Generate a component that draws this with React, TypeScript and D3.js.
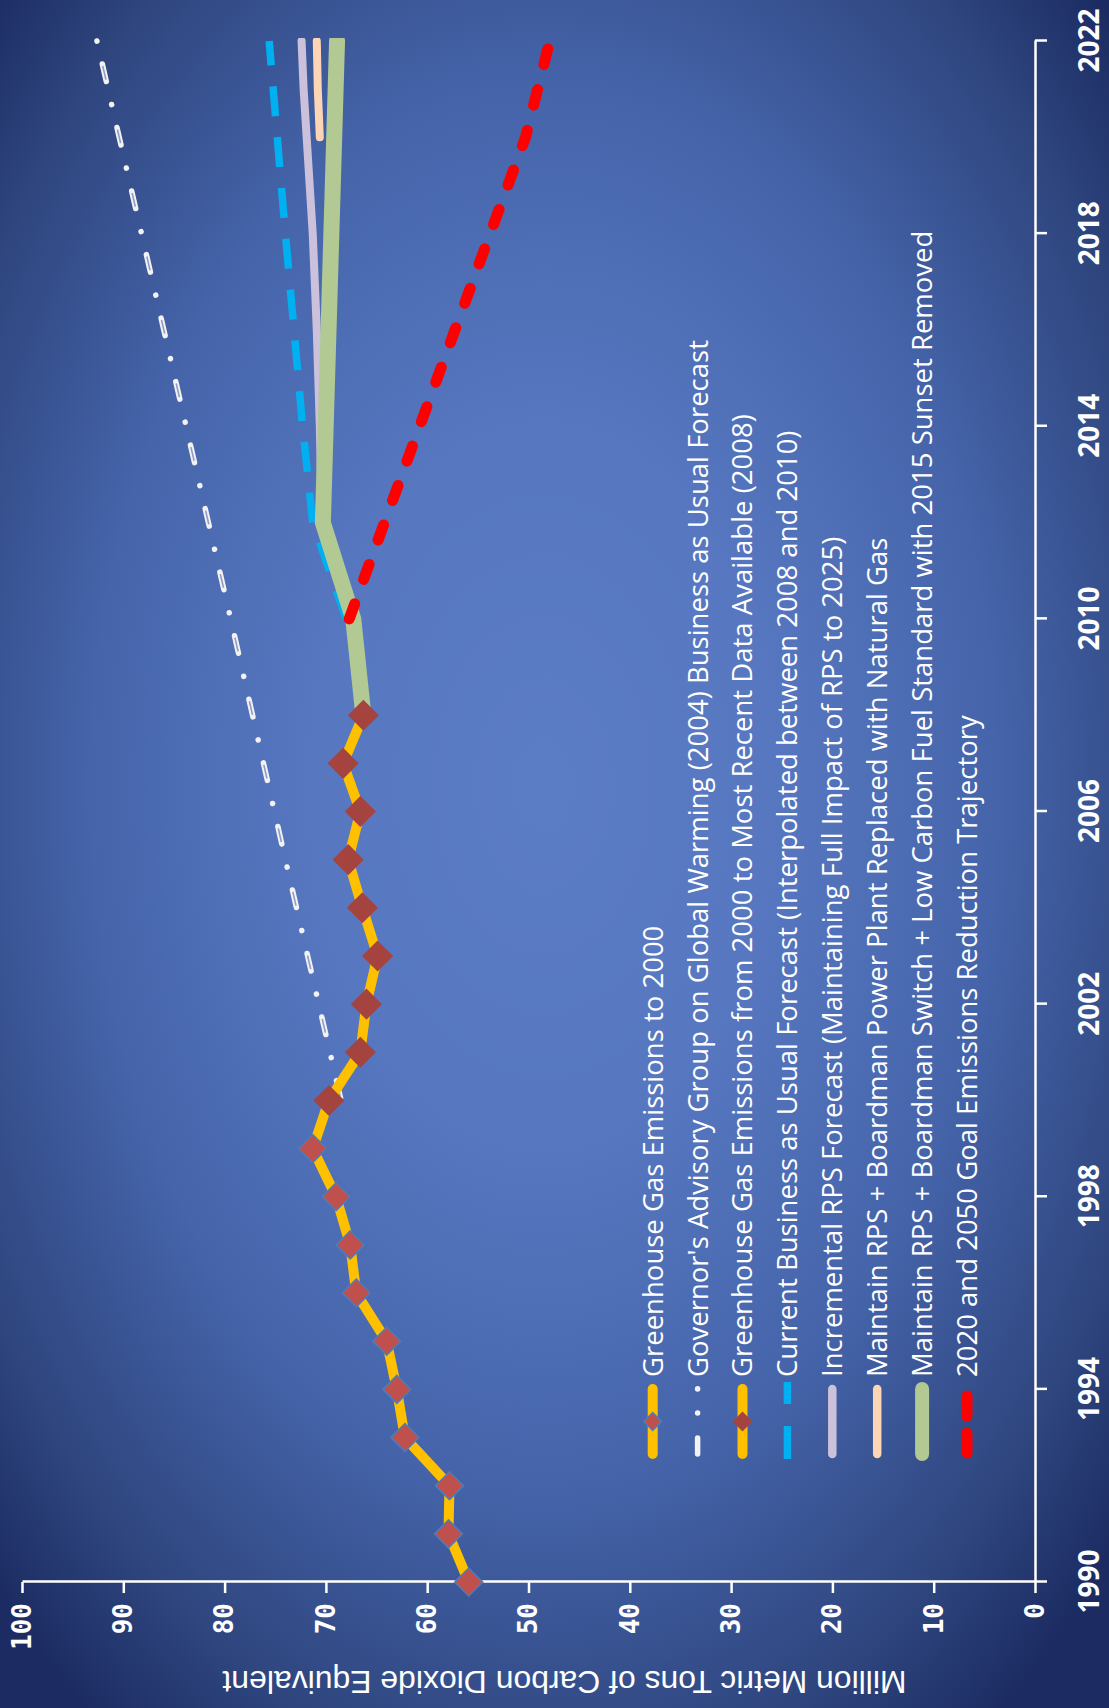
import React, { useEffect, useRef } from 'react'
import * as d3 from 'd3'

const W = 1109
const H = 1708

// chart is drawn landscape and turned a quarter turn counter-clockwise
const historyYears = [1990, 1991, 1992, 1993, 1994, 1995, 1996, 1997, 1998, 1999, 2000]
const historyValues = [55.9, 57.9, 57.8, 62.2, 63.0, 64.0, 67.0, 67.6, 69.0, 71.3, 69.7]

const governorYears = [2000, 2005, 2010, 2015, 2020, 2022]
const governorValues = [68.5, 74.0, 79.4, 84.9, 90.4, 92.6]

const recentYears = [2000, 2001, 2002, 2003, 2004, 2005, 2006, 2007, 2008]
const recentValues = [69.7, 66.6, 66.0, 64.9, 66.4, 67.8, 66.6, 68.3, 66.3]

const bauYears = [2010, 2012, 2014, 2018, 2022]
const bauValues = [68.0, 71.3, 72.3, 74.0, 75.6]

const rpsYears = [2012, 2013, 2014, 2015, 2016, 2017, 2018, 2019, 2020, 2021, 2022]
const rpsValues = [70.3, 70.5, 70.6, 70.75, 70.9, 71.1, 71.3, 71.6, 71.9, 72.2, 72.4]

const gasYears = [2020, 2021, 2022]
const gasValues = [70.6, 70.8, 70.9]

const lcfsYears = [2008, 2009, 2010, 2012, 2022]
const lcfsValues = [66.3, 66.8, 67.3, 70.3, 68.9]

const goalYears = [2010, 2020, 2022]
const goalValues = [67.7, 50.3, 47.9]

const yearTicks = [1990, 1994, 1998, 2002, 2006, 2010, 2014, 2018, 2022]
const valueTicks = [0, 10, 20, 30, 40, 50, 60, 70, 80, 90, 100]

const legendLabels = [
  'Greenhouse Gas Emissions to 2000',
  "Governor's Advisory Group on Global Warming (2004) Business as Usual Forecast",
  'Greenhouse Gas Emissions from 2000 to Most Recent Data Available (2008)',
  'Current Business as Usual Forecast (Interpolated between 2008 and 2010)',
  'Incremental RPS Forecast (Maintaining Full Impact of RPS to 2025)',
  'Maintain RPS + Boardman Power Plant Replaced with Natural Gas',
  'Maintain RPS + Boardman Switch + Low Carbon Fuel Standard with 2015 Sunset Removed',
  '2020 and 2050 Goal Emissions Reduction Trajectory'
]

const yTitle = 'Million Metric Tons of Carbon Dioxide Equivalent'

export default function App () {
  const ref = useRef<SVGSVGElement>(null)

  useEffect(() => {
    const svg = d3.select(ref.current)
    svg.selectAll('*').remove()

    const x = d3.scaleLinear().domain([1990, 2022]).range([126, 1667])
    const y = d3.scaleLinear().domain([0, 100]).range([1035, 22])

    const defs = svg.append('defs')
    const grad = defs.append('radialGradient')
      .attr('id', 'bg')
      .attr('cx', '49%')
      .attr('cy', '46%')
      .attr('r', '68%')
    const stops: [number, string][] = [
      [0, '#5b7dc6'], [0.3, '#5778c1'], [0.6, '#4564aa'], [0.85, '#2f467f'], [1, '#1c2c63']
    ]
    stops.forEach(s => grad.append('stop').attr('offset', s[0]).attr('stop-color', s[1]))

    // plot area clip (landscape coords)
    defs.append('clipPath').attr('id', 'plot')
      .append('rect')
      .attr('x', 0).attr('y', 0)
      .attr('width', x(2022) + 3).attr('height', y(0))

    svg.append('rect').attr('width', W).attr('height', H).attr('fill', 'url(#bg)')

    const g = svg.append('g').attr('transform', `translate(0,${H}) rotate(-90)`)

    // value axis
    const yAxis = g.append('g')
      .attr('transform', `translate(${x(1990)},0)`)
      .call(d3.axisLeft(y).tickValues(valueTicks).tickSize(11).tickSizeOuter(0).tickPadding(10))
    yAxis.attr('font-family', "'DejaVu Sans Mono', monospace").attr('font-size', 26).attr('font-weight', 'bold')
    yAxis.select('.domain').attr('stroke', '#fff').attr('stroke-width', 2.5)
    yAxis.selectAll('.tick line').attr('stroke', '#fff').attr('stroke-width', 2.5)
    yAxis.selectAll('.tick text').attr('fill', '#fff')

    // year axis
    const xAxis = g.append('g')
      .attr('transform', `translate(0,${y(0)})`)
      .call(d3.axisBottom(x).tickValues(yearTicks).tickSize(12).tickSizeOuter(0).tickPadding(31).tickFormat(d3.format('d')))
    xAxis.attr('font-family', "'Open Sans', sans-serif").attr('font-size', 29).attr('font-weight', 'bold')
    xAxis.select('.domain').attr('stroke', '#fff').attr('stroke-width', 2.5)
    xAxis.selectAll('.tick line').attr('stroke', '#fff').attr('stroke-width', 2.5)
    xAxis.selectAll('.tick text')
      .attr('fill', '#fff')
      .attr('textLength', 64)
      .attr('lengthAdjust', 'spacingAndGlyphs')

    g.append('text')
      .attr('transform', `translate(25,${(y(0) + y(100)) / 2 + 36}) rotate(-90)`)
      .attr('dy', '0.36em')
      .attr('text-anchor', 'middle')
      .attr('font-family', "'Liberation Sans', Arial, sans-serif")
      .attr('font-size', 32)
      .attr('fill', '#fff')
      .attr('textLength', 684)
      .attr('lengthAdjust', 'spacingAndGlyphs')
      .text(yTitle)

    const line = d3.line<[number, number]>().x(d => x(d[0])).y(d => y(d[1]))
    const pts = (a: number[], b: number[]) => d3.zip(a, b) as [number, number][]

    const plot = g.append('g').attr('clip-path', 'url(#plot)')

    // governor's BAU: drawn from the 2022 end so the pattern starts with a dot there
    const gov = pts(governorYears, governorValues).reverse()
    plot.append('path').attr('d', line(gov)).attr('fill', 'none')
      .attr('stroke', '#f2f2f2').attr('stroke-width', 5.5).attr('stroke-linecap', 'round')
      .attr('stroke-dasharray', '0.1 23.5 18 23.6')
    plot.append('path').attr('d', line(gov)).attr('fill', 'none')
      .attr('stroke', '#8f9dc6').attr('stroke-width', 1.6)
      .attr('stroke-dasharray', '0 25.6 14 25.6')

    const hist = pts(historyYears, historyValues)
    const recent = pts(recentYears, recentValues)
    plot.append('path').attr('d', line(hist)).attr('fill', 'none')
      .attr('stroke', '#ffc000').attr('stroke-width', 10).attr('stroke-linejoin', 'round')
    plot.append('path').attr('d', line(recent)).attr('fill', 'none')
      .attr('stroke', '#ffc000').attr('stroke-width', 10).attr('stroke-linejoin', 'round')

    const diamond1 = d3.symbol().type(d3.symbolSquare).size(392)
    const diamond3 = d3.symbol().type(d3.symbolSquare).size(484)

    g.append('g').selectAll('path').data(hist).enter().append('path')
      .attr('d', diamond1())
      .attr('transform', d => `translate(${x(d[0])},${y(d[1])}) rotate(45)`)
      .attr('fill', '#c0504d').attr('stroke', '#4a7ebb').attr('stroke-width', 1.5)

    g.append('g').selectAll('path').data(recent).enter().append('path')
      .attr('d', diamond3())
      .attr('transform', d => `translate(${x(d[0])},${y(d[1])}) rotate(45)`)
      .attr('fill', '#a5443f')

    plot.append('path').attr('d', line(pts(bauYears, bauValues))).attr('fill', 'none')
      .attr('stroke', '#00b0f0').attr('stroke-width', 7.5).attr('stroke-dasharray', '30 21')

    plot.append('path').attr('d', line(pts(rpsYears, rpsValues))).attr('fill', 'none')
      .attr('stroke', '#ccc1da').attr('stroke-width', 8).attr('stroke-linecap', 'round').attr('stroke-linejoin', 'round')

    plot.append('path').attr('d', line(pts(gasYears, gasValues))).attr('fill', 'none')
      .attr('stroke', '#fcd5b5').attr('stroke-width', 8).attr('stroke-linecap', 'round').attr('stroke-linejoin', 'round')

    plot.append('path').attr('d', line(pts(lcfsYears, lcfsValues))).attr('fill', 'none')
      .attr('stroke', '#b3c993').attr('stroke-width', 16).attr('stroke-linecap', 'round').attr('stroke-linejoin', 'round')

    plot.append('path').attr('d', line(pts(goalYears, goalValues))).attr('fill', 'none')
      .attr('stroke', '#ff0000').attr('stroke-width', 11).attr('stroke-linecap', 'round')
      .attr('stroke-dasharray', '16 26')

    // legend
    const rowY = (i: number) => 652.7 + i * 44.9
    const lx0 = 254
    const lx1 = 319
    const legend = g.append('g')
    legendLabels.forEach((label, i) => {
      const ry = rowY(i)
      const seg = legend.append('line').attr('x1', lx0).attr('x2', lx1).attr('y1', ry).attr('y2', ry)
      if (i === 0 || i === 2) {
        seg.attr('stroke', '#ffc000').attr('stroke-width', 10).attr('stroke-linecap', 'round')
        legend.append('path')
          .attr('d', d3.symbol().type(d3.symbolSquare).size(i === 0 ? 162 : 200)())
          .attr('transform', `translate(${(lx0 + lx1) / 2},${ry}) rotate(45)`)
          .attr('fill', i === 0 ? '#c0504d' : '#a5443f')
          .attr('stroke', i === 0 ? '#4a7ebb' : 'none')
          .attr('stroke-width', 1.5)
      } else if (i === 1) {
        seg.attr('x1', 254).attr('x2', 322)
          .attr('stroke', '#f2f2f2').attr('stroke-width', 5.5).attr('stroke-linecap', 'round')
          .attr('stroke-dasharray', '16 25 0.1 24 0.1 40')
      } else if (i === 3) {
        seg.attr('x1', 249).attr('x2', 326)
          .attr('stroke', '#00b0f0').attr('stroke-width', 7.5).attr('stroke-dasharray', '33 22')
      } else if (i === 7) {
        seg.attr('x1', 255).attr('x2', 317)
          .attr('stroke', '#ff0000').attr('stroke-width', 11).attr('stroke-linecap', 'round')
          .attr('stroke-dasharray', '20 17')
      } else {
        const col = ['', '', '', '', '#ccc1da', '#fcd5b5', '#b3c993'][i]
        seg.attr('stroke', col).attr('stroke-width', i === 6 ? 14 : 8.5).attr('stroke-linecap', 'round')
      }
      legend.append('text')
        .attr('x', 331)
        .attr('y', ry)
        .attr('dy', '0.36em')
        .attr('font-family', "'Open Sans', sans-serif")
        .attr('font-size', 27.5)
        .attr('fill', '#fff')
        .text(label)
    })
  }, [])

  return (
    <svg
      ref={ref}
      width={W}
      height={H}
      style={{ position: 'absolute', left: 0, top: 0, display: 'block' }}
    />
  )
}
